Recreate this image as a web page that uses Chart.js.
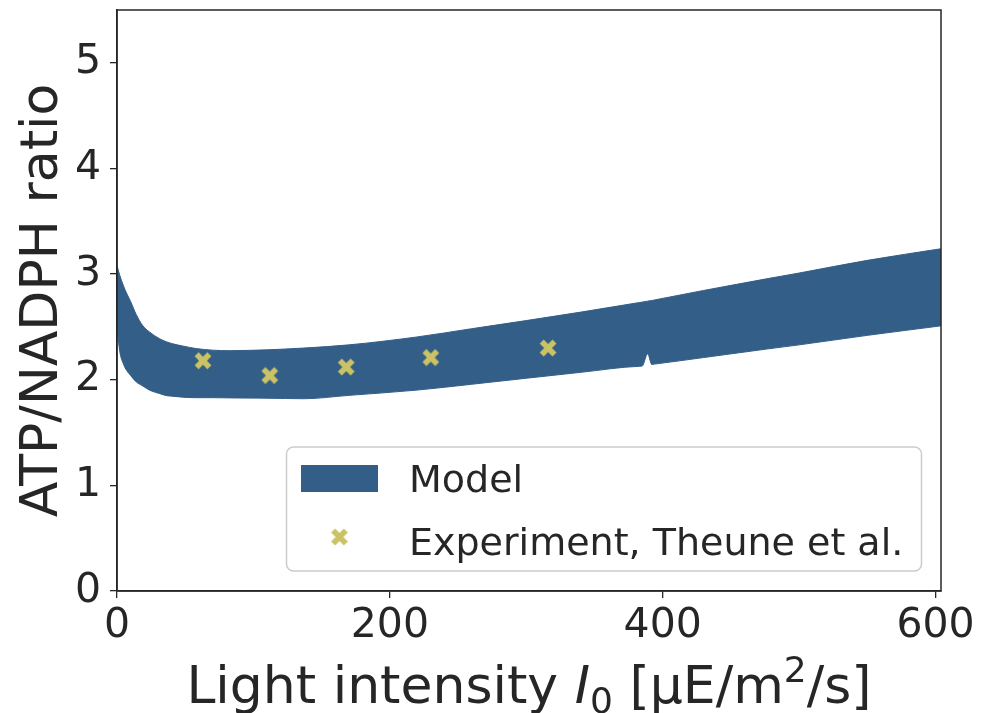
<!DOCTYPE html>
<html>
<head>
<meta charset="utf-8">
<script src="https://cdn.jsdelivr.net/npm/chart.js@4"></script>
<style>
  html, body { margin: 0; padding: 0; background: #fff; }
  #wrap { width: 988px; height: 713px; }
</style>
</head>
<body>
<div id="wrap"><canvas id="chart" width="988" height="713"></canvas></div>
<script>
// model band
const modelX = [0, 2, 5, 7, 10, 14, 19, 24, 31, 36, 44, 48, 58, 70, 83, 97, 110, 137, 170, 220, 260, 300, 340, 383, 385, 389, 392, 394, 430, 476, 500, 550, 604];
const modelUpper = [3.08, 2.99, 2.88, 2.82, 2.74, 2.62, 2.51, 2.45, 2.39, 2.36, 2.33, 2.32, 2.295, 2.28, 2.275, 2.278, 2.283, 2.30, 2.33, 2.405, 2.483, 2.56, 2.64, 2.731, 2.735, 2.744, 2.75, 2.755, 2.845, 2.955, 3.01, 3.13, 3.24];
const modelLower = [2.50, 2.27, 2.14, 2.09, 2.04, 1.98, 1.94, 1.90, 1.87, 1.85, 1.84, 1.835, 1.83, 1.83, 1.828, 1.826, 1.825, 1.82, 1.852, 1.902, 1.957, 2.014, 2.07, 2.127, 2.13, 2.246, 2.145, 2.148, 2.21, 2.29, 2.33, 2.42, 2.51];

// experiment, Theune et al.
const expX = [63, 112, 168, 230, 316];
const expY = [2.18, 2.04, 2.12, 2.21, 2.30];

const xTicks = [0, 200, 400, 600];
const yTicks = [0, 1, 2, 3, 4, 5];

const BAND = "#335e87";
const MARKER = "#cac264";
const INK = "#262626";
const FONT = "'DejaVu Sans', sans-serif";

// filled "X" marker like matplotlib
function makeMarker() {
  const c = document.createElement("canvas");
  c.width = 20;
  c.height = 20;
  const g = c.getContext("2d");
  g.strokeStyle = MARKER;
  g.lineWidth = 5.6;
  g.lineCap = "butt";
  g.beginPath();
  g.moveTo(3.6, 3.6); g.lineTo(16.4, 16.4);
  g.moveTo(16.4, 3.6); g.lineTo(3.6, 16.4);
  g.stroke();
  return c;
}
const marker = makeMarker();

const framePlugin = {
  id: "frame",
  afterDraw(chart) {
    const { ctx, chartArea: a } = chart;
    ctx.save();
    ctx.strokeStyle = INK;
    ctx.lineWidth = 1.5;
    ctx.strokeRect(a.left, a.top, a.right - a.left, a.bottom - a.top);
    ctx.restore();
  },
};

const legendPlugin = {
  id: "boxLegend",
  afterDatasetsDraw(chart) {
    const ctx = chart.ctx;
    const ds = chart.data.datasets;
    ctx.save();
    ctx.beginPath();
    ctx.roundRect(286.5, 447, 635, 124, 7);
    ctx.fillStyle = "rgba(255,255,255,0.85)";
    ctx.fill();
    ctx.strokeStyle = "#cccccc";
    ctx.lineWidth = 1.5;
    ctx.stroke();

    ctx.fillStyle = ds[1].backgroundColor;
    ctx.fillRect(301, 465, 77, 27);
    ctx.drawImage(marker, 339.5 - 10, 537 - 10);

    ctx.fillStyle = INK;
    ctx.font = "38px " + FONT;
    ctx.textBaseline = "alphabetic";
    ctx.textAlign = "left";
    ctx.fillText(ds[1].label, 409, 492);
    ctx.fillText(ds[2].label, 409, 555);
    ctx.restore();
  },
};

const titlePlugin = {
  id: "axisTitles",
  afterDraw(chart) {
    const { ctx, chartArea: a } = chart;
    const size = 52;
    ctx.save();
    ctx.fillStyle = INK;
    ctx.textBaseline = "alphabetic";

    // y title
    ctx.save();
    ctx.translate(57, (a.top + a.bottom) / 2);
    ctx.rotate(-Math.PI / 2);
    ctx.textAlign = "center";
    ctx.font = size + "px " + FONT;
    ctx.fillText("ATP/NADPH ratio", 0, 0);
    ctx.restore();

    // x title with italic I, subscript 0, superscript 2
    const parts = [
      { t: "Light intensity ", f: size + "px " + FONT, dy: 0 },
      { t: "I", f: "italic " + size + "px " + FONT, dy: 0 },
      { t: "0", f: Math.round(size * 0.7) + "px " + FONT, dy: size * 0.2 },
      { t: " [μE/m", f: size + "px " + FONT, dy: 0 },
      { t: "2", f: Math.round(size * 0.7) + "px " + FONT, dy: -size * 0.4 },
      { t: "/s]", f: size + "px " + FONT, dy: 0 },
    ];
    ctx.textAlign = "left";
    let total = 0;
    for (const p of parts) {
      ctx.font = p.f;
      p.w = ctx.measureText(p.t).width;
      total += p.w;
    }
    let x = (a.left + a.right) / 2 - total / 2;
    for (const p of parts) {
      ctx.font = p.f;
      ctx.fillText(p.t, x, 703 + p.dy);
      x += p.w;
    }
    ctx.restore();
  },
};

const tickFont = { family: FONT, size: 41 };

new Chart(document.getElementById("chart"), {
  type: "line",
  data: {
    datasets: [
      {
        label: "lower",
        data: modelX.map((x, i) => ({ x, y: modelLower[i] })),
        borderColor: BAND,
        borderWidth: 1,
        pointRadius: 0,
        cubicInterpolationMode: "monotone",
        fill: false,
        order: 2,
      },
      {
        label: "Model",
        data: modelX.map((x, i) => ({ x, y: modelUpper[i] })),
        borderColor: BAND,
        backgroundColor: BAND,
        borderWidth: 1,
        pointRadius: 0,
        cubicInterpolationMode: "monotone",
        fill: "-1",
        order: 1,
      },
      {
        label: "Experiment, Theune et al.",
        data: expX.map((x, i) => ({ x, y: expY[i] })),
        showLine: false,
        pointStyle: marker,
        pointRadius: 9,
        pointHoverRadius: 9,
        order: 0,
      },
    ],
  },
  options: {
    responsive: false,
    animation: false,
    layout: { padding: { top: 10, right: 47, left: 0, bottom: 0 } },
    plugins: {
      legend: { display: false },
      tooltip: { enabled: false },
    },
    scales: {
      x: {
        type: "linear",
        min: 0,
        max: 604,
        afterBuildTicks: (s) => { s.ticks = xTicks.map((v) => ({ value: v })); },
        afterFit: (s) => { s.height = 122; s.paddingLeft = 0; s.paddingRight = 0; },
        ticks: { font: tickFont, color: INK, padding: 4, maxRotation: 0 },
        grid: { drawOnChartArea: false, tickLength: 7, color: INK, lineWidth: 1.3 },
        border: { color: INK, width: 1.5 },
      },
      y: {
        min: 0,
        max: 5.5,
        afterBuildTicks: (s) => { s.ticks = yTicks.map((v) => ({ value: v })); },
        afterFit: (s) => { s.width = 117; s.paddingTop = 0; s.paddingBottom = 0; },
        ticks: { font: tickFont, color: INK, padding: 9 },
        grid: { drawOnChartArea: false, tickLength: 7, color: INK, lineWidth: 1.3 },
        border: { color: INK, width: 1.5 },
      },
    },
  },
  plugins: [framePlugin, legendPlugin, titlePlugin],
});
</script>
</body>
</html>
